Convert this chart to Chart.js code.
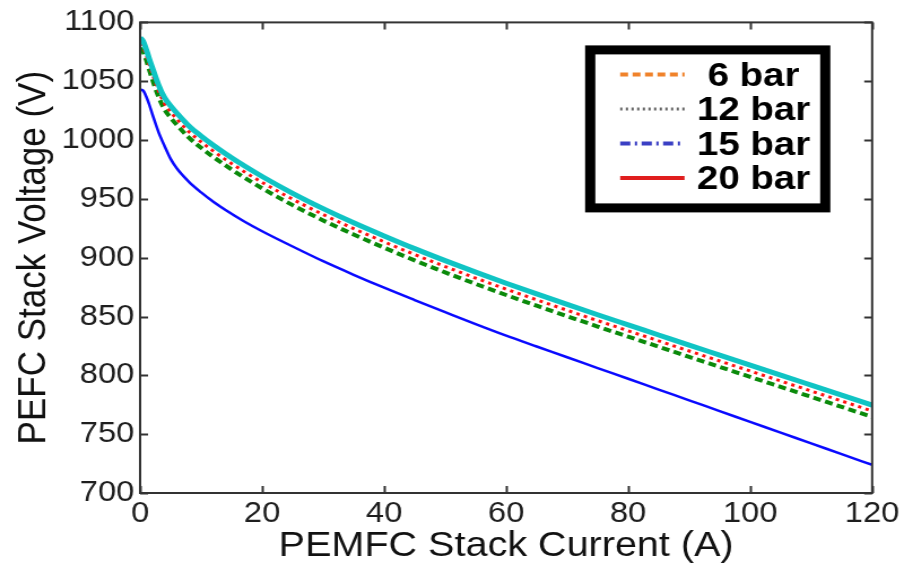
<!DOCTYPE html>
<html>
<head>
<meta charset="utf-8">
<script src="https://cdn.jsdelivr.net/npm/chart.js@4.4.0/dist/chart.umd.min.js"></script>
<style>
  html, body { margin: 0; padding: 0; background: #fff; overflow: hidden; }
  #wrap { width: 904px; height: 565px; }
  /* the figure is a bit wider than tall glyphs suggest, so stretch the canvas sideways */
  #chart { display: block; transform: scaleX(1.13); transform-origin: 0 0; }
</style>
</head>
<body>
<div id="wrap"><canvas id="chart" width="800" height="565"></canvas></div>
<script>
// stack current (A)
const current = [0, 0.5, 1, 1.5, 2, 3, 4, 5, 6, 8, 10, 12, 14, 17, 20, 25, 30, 35, 40, 45,
  50, 55, 60, 65, 70, 75, 80, 85, 90, 95, 100, 105, 110, 115, 120];

// stack voltage (V) for each curve
const cyanVolts = [1087, 1084, 1077, 1069, 1061.5, 1047, 1036, 1029, 1023, 1012, 1003.4, 995.6, 988.4, 978.3, 969,
  954.7, 941.7, 929.7, 918.5, 907.7, 897.5, 887.7, 878.3, 869.2, 860.3, 851.5, 842.9, 834.3, 825.7, 817.2,
  808.7, 800.2, 791.7, 783.2, 774.7];
const redVolts = [1082, 1079, 1072, 1064, 1056.5, 1042, 1031, 1024, 1018, 1007, 998.4, 990.6, 983.4, 973.3, 964,
  949.7, 936.7, 924.7, 913.5, 902.7, 892.5, 882.7, 873.3, 864.2, 855.3, 846.5, 837.9, 829.3, 820.7, 812.2,
  803.7, 795.2, 786.7, 778.2, 769.7];
const greenVolts = [1078, 1075, 1068, 1059.5, 1051.5, 1037, 1026, 1019, 1013, 1002, 993.4, 985.6, 978.4, 968.3, 959,
  944.7, 931.7, 919.7, 908.5, 897.7, 887.5, 877.7, 868.3, 859.2, 850.3, 841.5, 832.9, 824.3, 815.7, 807.2,
  798.7, 790.2, 781.7, 773.2, 764.7];
const blueVolts = [1043, 1042, 1037, 1030, 1022, 1007, 995, 984, 976, 964.5, 955.5, 947.5, 940.5, 931, 922.5,
  909.5, 897, 885.5, 874.5, 864, 853.7, 843.5, 833.7, 824.5, 815.4, 806.2, 797.1, 787.9, 778.8, 769.6,
  760.5, 751.3, 742.2, 733, 723.9];

const legendLabels = ['6 bar', '12 bar', '15 bar', '20 bar'];

const xTicks = [0, 20, 40, 60, 80, 100, 120];
const yTicks = [700, 750, 800, 850, 900, 950, 1000, 1050, 1100];

const FONT = "'Liberation Sans', Arial, sans-serif";

// line styles for the legend samples
const legendStyles = [
  { color: '#f0822a', width: 4, dash: [7, 4] },
  { color: '#666666', width: 3, dash: [2, 3] },
  { color: '#3a3fc4', width: 4, dash: [9, 4, 2, 4] },
  { color: '#e01e1e', width: 4, dash: [] }
];

function points(volts) {
  return current.map((c, i) => ({ x: c, y: volts[i] }));
}

// box around the axes, inward ticks on all four sides, and the boxed legend
const frame = {
  id: 'frame',
  afterDraw(chart) {
    const { ctx, chartArea: a, scales: { x, y } } = chart;
    ctx.save();
    ctx.strokeStyle = '#333';
    ctx.lineWidth = 2;
    ctx.strokeRect(a.left, a.top, a.right - a.left, a.bottom - a.top);
    ctx.beginPath();
    xTicks.forEach(v => {
      const px = Math.round(x.getPixelForValue(v)) + 0.5;
      ctx.moveTo(px, a.bottom); ctx.lineTo(px, a.bottom - 7);
      ctx.moveTo(px, a.top); ctx.lineTo(px, a.top + 7);
    });
    yTicks.forEach(v => {
      const py = Math.round(y.getPixelForValue(v)) + 0.5;
      ctx.moveTo(a.left, py); ctx.lineTo(a.left + 7, py);
      ctx.moveTo(a.right, py); ctx.lineTo(a.right - 7, py);
    });
    ctx.stroke();

    // legend
    const bx = a.right - 254, by = a.top + 23, bw = 217, bh = 167;
    ctx.fillStyle = '#fff';
    ctx.fillRect(bx, by, bw, bh);
    ctx.lineWidth = 9;
    ctx.strokeStyle = '#000';
    ctx.strokeRect(bx + 4.5, by + 4.5, bw - 9, bh - 9);
    ctx.font = 'bold 34px ' + FONT;
    ctx.textBaseline = 'middle';
    ctx.textAlign = 'center';
    legendLabels.forEach((label, i) => {
      const ly = by + 29 + i * 34.5;
      const s = legendStyles[i];
      ctx.beginPath();
      ctx.setLineDash(s.dash);
      ctx.lineWidth = s.width;
      ctx.strokeStyle = s.color;
      ctx.moveTo(bx + 31, ly);
      ctx.lineTo(bx + 88, ly);
      ctx.stroke();
      ctx.setLineDash([]);
      ctx.fillStyle = '#000';
      ctx.fillText(label, bx + 149, ly + 2);
    });
    ctx.restore();
  }
};

const ctx = document.getElementById('chart').getContext('2d');

new Chart(ctx, {
  type: 'line',
  data: {
    datasets: [
      {
        label: 'cyan',
        data: points(cyanVolts),
        borderColor: '#10c4c4',
        borderWidth: 5
      },
      {
        label: 'red',
        data: points(redVolts),
        borderColor: '#ff1010',
        borderWidth: 3,
        borderDash: [3, 4]
      },
      {
        label: 'green',
        data: points(greenVolts),
        borderColor: '#0a8a0a',
        borderWidth: 4,
        borderDash: [7, 4]
      },
      {
        label: 'blue',
        data: points(blueVolts),
        borderColor: '#0a0aff',
        borderWidth: 2.5
      }
    ]
  },
  options: {
    responsive: false,
    animation: false,
    events: [],
    layout: { padding: { top: 22, right: 18, left: 0, bottom: 0 } },
    elements: {
      point: { radius: 0 },
      line: { fill: false, cubicInterpolationMode: 'monotone' }
    },
    plugins: {
      legend: { display: false },
      tooltip: { enabled: false }
    },
    scales: {
      x: {
        type: 'linear',
        min: 0,
        max: 120,
        afterBuildTicks: s => { s.ticks = xTicks.map(v => ({ value: v })); },
        afterFit: s => { s.height = 72; },
        grid: { display: false, drawTicks: false },
        border: { display: false },
        ticks: {
          padding: 4,
          color: '#1e1e1e',
          font: { family: FONT, size: 29 },
          callback: v => String(v)
        },
        title: {
          display: true,
          text: 'PEMFC Stack Current (A)',
          color: '#111',
          font: { family: FONT, size: 35 },
          padding: { top: 0, bottom: -2 }
        }
      },
      y: {
        type: 'linear',
        min: 700,
        max: 1100,
        afterBuildTicks: s => { s.ticks = yTicks.map(v => ({ value: v })); },
        afterFit: s => { s.width = 124; },
        grid: { display: false, drawTicks: false },
        border: { display: false },
        ticks: {
          padding: 5,
          color: '#1e1e1e',
          font: { family: FONT, size: 29 },
          callback: v => String(v)
        },
        title: {
          display: true,
          text: 'PEFC Stack Voltage (V)',
          color: '#111',
          font: { family: FONT, size: 35 },
          padding: { top: 9, bottom: 0 }
        }
      }
    }
  },
  plugins: [frame]
});
</script>
</body>
</html>
